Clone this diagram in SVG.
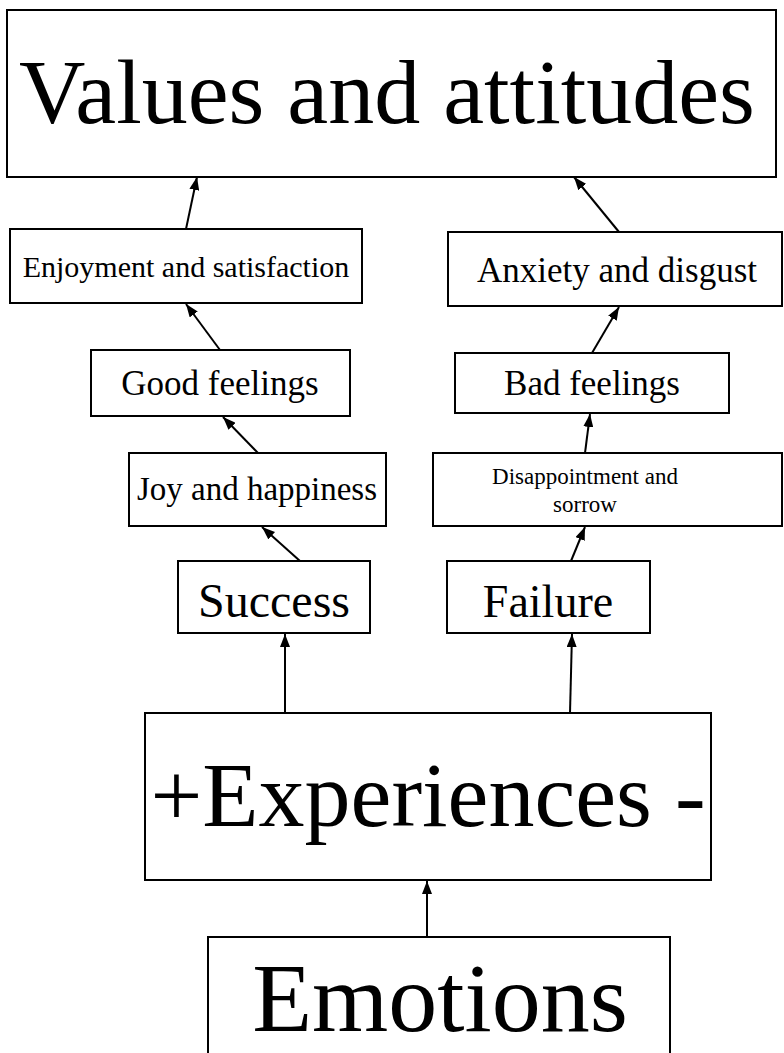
<svg xmlns="http://www.w3.org/2000/svg" width="784" height="1053" viewBox="0 0 784 1053">
<style>
.box{fill:#fff;stroke:#000;stroke-width:2}
.t{fill:#000;text-anchor:middle}
.edge{stroke:#000;stroke-width:2;fill:none;marker-end:url(#ah)}
</style>
<defs>
<marker id="ah" markerUnits="userSpaceOnUse" markerWidth="14" markerHeight="10" refX="13" refY="5" orient="auto">
<path d="M0,0 L13,5 L0,10 z" fill="#000"/>
</marker>
</defs>
<rect width="784" height="1053" fill="#fff"/>
<g id="connectors">
<line class="edge" x1="186" y1="229" x2="197" y2="177"/>
<line class="edge" x1="619" y1="232" x2="574" y2="177"/>
<line class="edge" x1="220" y1="350" x2="186" y2="304"/>
<line class="edge" x1="592" y1="353" x2="619" y2="307"/>
<line class="edge" x1="258" y1="453" x2="223" y2="417"/>
<line class="edge" x1="585" y1="453" x2="590" y2="414"/>
<line class="edge" x1="300" y1="561" x2="262" y2="527"/>
<line class="edge" x1="571" y1="561" x2="585" y2="527"/>
<line class="edge" x1="285" y1="713" x2="285" y2="634"/>
<line class="edge" x1="570" y1="713" x2="572" y2="634"/>
<line class="edge" x1="427" y1="937" x2="427" y2="881"/>
</g>
<g font-family="Liberation Serif, Times New Roman, Times, serif">
<g id="values">
<rect class="box" x="7" y="10" width="769" height="167"/>
<text class="t" x="387" y="123" font-size="92">Values and attitudes</text>
</g>
<g id="enjoyment">
<rect class="box" x="10" y="229" width="352" height="74"/>
<text class="t" x="186" y="277" font-size="30">Enjoyment and satisfaction</text>
</g>
<g id="anxiety">
<rect class="box" x="448" y="232" width="334" height="74"/>
<text class="t" x="617" y="282" font-size="35">Anxiety and disgust</text>
</g>
<g id="good">
<rect class="box" x="91" y="350" width="259" height="66"/>
<text class="t" x="220" y="395" font-size="35">Good feelings</text>
</g>
<g id="bad">
<rect class="box" x="455" y="353" width="274" height="60"/>
<text class="t" x="592" y="395" font-size="35">Bad feelings</text>
</g>
<g id="joy">
<rect class="box" x="129" y="453" width="257" height="73"/>
<text class="t" x="257" y="500" font-size="33">Joy and happiness</text>
</g>
<g id="disappointment">
<rect class="box" x="433" y="453" width="349" height="73"/>
<text class="t" x="585" y="484" font-size="23">Disappointment and</text>
<text class="t" x="585" y="512" font-size="23">sorrow</text>
</g>
<g id="success">
<rect class="box" x="178" y="561" width="192" height="72"/>
<text class="t" x="274" y="617" font-size="48">Success</text>
</g>
<g id="failure">
<rect class="box" x="447" y="561" width="203" height="72"/>
<text class="t" x="548" y="617" font-size="46">Failure</text>
</g>
<g id="experiences">
<rect class="box" x="145" y="713" width="566" height="167"/>
<text class="t" x="428" y="826" font-size="92">+Experiences -</text>
</g>
<g id="emotions">
<rect class="box" x="208" y="937" width="462" height="130"/>
<text class="t" x="440" y="1031" font-size="98">Emotions</text>
</g>
</g>
</svg>
